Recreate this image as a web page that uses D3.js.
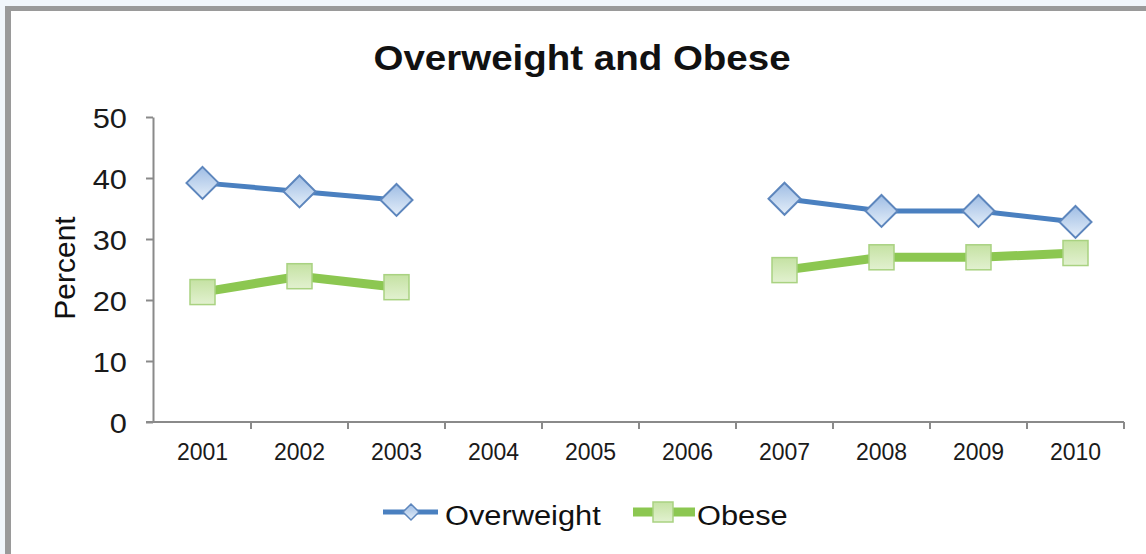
<!DOCTYPE html>
<html><head><meta charset="utf-8">
<script src="https://cdn.jsdelivr.net/npm/d3@7"></script>
<style>
html,body{margin:0;padding:0;background:#f1f6fb;}
svg{display:block;font-family:"Liberation Sans",Arial,sans-serif;}
</style></head>
<body>
<script>
const years = ["2001","2002","2003","2004","2005","2006","2007","2008","2009","2010"];
const overweight = [39.2, 37.8, 36.4, null, null, null, 36.6, 34.6, 34.6, 32.8];
const obese = [21.3, 23.9, 22.1, null, null, null, 24.9, 27.0, 27.0, 27.7];
const yTicks = [0, 10, 20, 30, 40, 50];
const seriesNames = ["Overweight", "Obese"];

const W = 1146, H = 554, SX = 1.1;
const svg = d3.select("body").append("svg").attr("width", W).attr("height", H);

// panel
svg.append("rect").attr("x", 5).attr("y", 6).attr("width", W - 5).attr("height", H - 6).attr("fill", "#ffffff");
svg.append("rect").attr("x", 5).attr("y", 6).attr("width", W - 5).attr("height", 5).attr("fill", "#9a9a9a");
svg.append("rect").attr("x", 5).attr("y", 6).attr("width", 6).attr("height", H - 6).attr("fill", "#9a9a9a");

const defs = svg.append("defs");
const gB = defs.append("linearGradient").attr("id", "gBlue").attr("x1", 0).attr("y1", 0).attr("x2", 0).attr("y2", 1);
gB.append("stop").attr("offset", "0%").attr("stop-color", "#9fbde4");
gB.append("stop").attr("offset", "100%").attr("stop-color", "#e4eef9");
const gG = defs.append("linearGradient").attr("id", "gGreen").attr("x1", 0).attr("y1", 0).attr("x2", 0).attr("y2", 1);
gG.append("stop").attr("offset", "0%").attr("stop-color", "#c5e2a3");
gG.append("stop").attr("offset", "100%").attr("stop-color", "#e2f1d0");

const x = d3.scaleBand().domain(years).range([154, 1124]).padding(0);
const y = d3.scaleLinear().domain([0, 50]).range([422, 117]);
const cx = d => x(d) + x.bandwidth() / 2;

// title
svg.append("text").attr("transform", `translate(582,70) scale(${SX},1)`)
  .attr("text-anchor", "middle").attr("font-size", 35).attr("font-weight", "bold").attr("fill", "#111")
  .text("Overweight and Obese");

// y axis
const ya = svg.append("g").attr("transform", "translate(153,0)")
  .call(d3.axisLeft(y).tickValues(yTicks).tickSize(7).tickSizeOuter(0).tickFormat(d3.format("d")));
ya.select(".domain").attr("stroke", "#8a8a8a").attr("stroke-width", 2);
ya.selectAll(".tick line").attr("stroke", "#8a8a8a").attr("stroke-width", 2);
ya.selectAll(".tick text").attr("x", null).attr("dy", null)
  .attr("transform", `translate(-26,10) scale(${SX},1)`)
  .attr("font-size", 28).attr("fill", "#1a1a1a").attr("font-family", "Liberation Sans, Arial, sans-serif");

// x axis
const xa = svg.append("g").attr("transform", "translate(0,422)")
  .call(d3.axisBottom(x).tickSize(0).tickPadding(0));
xa.select(".domain").remove();
xa.append("line").attr("x1", 146).attr("x2", 1124).attr("y1", 0).attr("y2", 0).attr("stroke", "#8a8a8a").attr("stroke-width", 2);
const bounds = years.map(d => x(d)).concat([x(years[years.length - 1]) + x.bandwidth()]).slice(1);
xa.selectAll("line.bt").data(bounds).join("line").attr("class", "bt")
  .attr("x1", d => d).attr("x2", d => d).attr("y1", 0).attr("y2", 7).attr("stroke", "#8a8a8a").attr("stroke-width", 2);
xa.selectAll(".tick text").attr("y", null).attr("dy", null)
  .attr("transform", "translate(0,38)")
  .attr("font-size", 23).attr("fill", "#1a1a1a").attr("font-family", "Liberation Sans, Arial, sans-serif");

// y label
svg.append("text").attr("transform", "translate(75,268) rotate(-90)")
  .attr("text-anchor", "middle").attr("font-size", 30).attr("fill", "#111").text("Percent");

// lines
const line = d3.line().defined(d => d.v != null).x(d => cx(d.k)).y(d => y(d.v));
const ow = years.map((k, i) => ({ k, v: overweight[i] }));
const ob = years.map((k, i) => ({ k, v: obese[i] }));

svg.append("path").datum(ob).attr("d", line).attr("fill", "none").attr("stroke", "#8cc751").attr("stroke-width", 9);
svg.append("path").datum(ow).attr("d", line).attr("fill", "none").attr("stroke", "#4a80c0").attr("stroke-width", 5);

svg.selectAll("rect.ob").data(ob.filter(d => d.v != null)).join("rect").attr("class", "ob")
  .attr("x", d => cx(d.k) - 12.5).attr("y", d => y(d.v) - 12.5).attr("width", 25).attr("height", 25)
  .attr("fill", "url(#gGreen)").attr("stroke", "#a9d281").attr("stroke-width", 1.5);

svg.selectAll("path.ow").data(ow.filter(d => d.v != null)).join("path").attr("class", "ow")
  .attr("d", d => { const px = cx(d.k), py = y(d.v), r = 16; return `M${px},${py - r}L${px + r},${py}L${px},${py + r}L${px - r},${py}Z`; })
  .attr("fill", "url(#gBlue)").attr("stroke", "#5d86bd").attr("stroke-width", 2);

// legend
const lg = svg.append("g");
lg.append("line").attr("x1", 383).attr("x2", 438).attr("y1", 512).attr("y2", 512).attr("stroke", "#4a80c0").attr("stroke-width", 5);
lg.append("path").attr("d", "M411,504L419,512L411,520L403,512Z").attr("fill", "url(#gBlue)").attr("stroke", "#5d86bd").attr("stroke-width", 1.5);
lg.append("text").attr("transform", `translate(445,525) scale(${SX},1)`).attr("font-size", 28).attr("fill", "#111").text(seriesNames[0]);
lg.append("line").attr("x1", 633).attr("x2", 695).attr("y1", 512).attr("y2", 512).attr("stroke", "#8cc751").attr("stroke-width", 9);
lg.append("rect").attr("x", 653).attr("y", 502).attr("width", 20).attr("height", 20).attr("fill", "url(#gGreen)").attr("stroke", "#a9d281").attr("stroke-width", 1.5);
lg.append("text").attr("transform", `translate(697,525) scale(${SX},1)`).attr("font-size", 28).attr("fill", "#111").text(seriesNames[1]);
</script>
</body></html>
